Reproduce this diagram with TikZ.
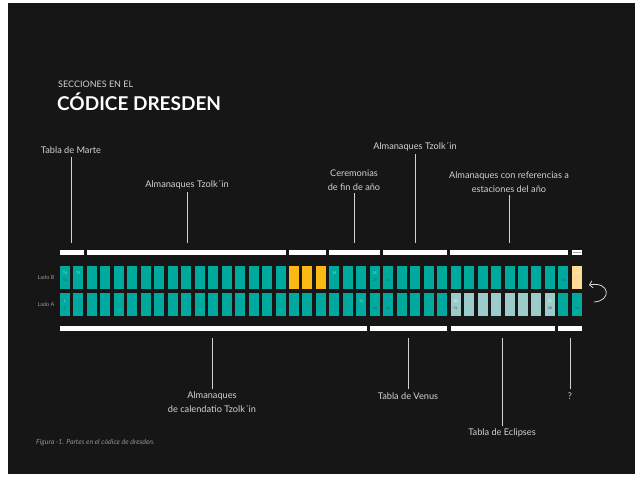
\documentclass[tikz,border=0pt]{standalone}
\usepackage{fontspec}
\setmainfont{Lato}
\usetikzlibrary{positioning,arrows.meta}
\definecolor{codexbg}{HTML}{161616}
\definecolor{codexteal}{HTML}{00A99D}
\definecolor{codexyellow}{HTML}{FDB913}
\definecolor{codexcream}{HTML}{FFDB94}
\definecolor{codexpale}{HTML}{9CCBCA}
\definecolor{labelgray}{HTML}{D2D2D2}
\definecolor{numdark}{HTML}{0A6A64}
\definecolor{numlight}{HTML}{A8DCD8}

\begin{document}
\begin{tikzpicture}[x=1pt,y=-1pt,
        cell/.style={minimum width=10pt,minimum height=23pt,inner sep=0pt},
        lbl/.style={text=labelgray,font=\fontsize{9.2}{13.5}\selectfont,align=center,inner sep=3pt},
        leader/.style={draw=labelgray,line width=0.7pt},
        pagenum/.style={font=\fontsize{3.5}{3.5}\selectfont,text=numdark,inner sep=0pt},
        lado/.style={text=gray!80,font=\fontsize{5.5}{6}\selectfont}]
        \fill[white] (0,0) rectangle (635,478);
        \fill[codexbg] (8,3) rectangle (635,474);
        \useasboundingbox (0,0) rectangle (635,478);

        \node[anchor=west,inner sep=0pt,text=labelgray,font=\fontsize{9}{10}\selectfont] (kicker) at (58,84) {SECCIONES EN EL};
        \node[anchor=west,inner sep=0pt,text=white,font=\fontsize{19}{21}\bfseries\selectfont] (title) at (57,102) {CÓDICE DRESDEN};

        % hojas del codice
        \foreach \i in {0,...,38} {
            \def\colb{codexteal}\def\cola{codexteal}
            \ifnum\i>16 \ifnum\i<20 \def\colb{codexyellow}\fi\fi
            \ifnum\i=38 \def\colb{codexcream}\fi
            \ifnum\i>28 \ifnum\i<37 \def\cola{codexpale}\fi\fi
            \node[cell,fill=\colb] (b\i) at ({65+13.47*\i},277.5) {};
            \node[cell,fill=\cola] (a\i) at ({65+13.47*\i},304.5) {};
        }
        \node[lado] (ladob) at (46,277.5) {Lado B};
        \node[lado] (ladoa) at (46,304.5) {Lado A};

        \node[pagenum,text=numlight] (n74) at ([yshift=-7pt]b0.north) {74};
        \node[pagenum] (n46) at ([yshift=-14pt]b0.north) {46};
        \node[pagenum,text=numlight] (n73) at ([yshift=-7pt]b1.north) {73};
        \node[pagenum,text=numlight] (n1) at ([yshift=-8pt]a0.north) {1};
        \node[pagenum] (n2) at ([yshift=-15pt]a0.north) {2};
        \node[pagenum,text=numlight] (n19) at ([yshift=-7pt]b20.north) {19};
        \node[pagenum,text=numlight] (n25) at ([yshift=-7pt]b23.north) {25};
        \node[pagenum] (n28) at ([yshift=-14pt]b23.north) {28};
        \node[pagenum] (n34) at ([yshift=-14pt]b24.north) {34};
        \node[pagenum,text=numlight] (n22) at ([yshift=-8pt]a22.north) {22};
        \node[pagenum] (n24) at ([yshift=-15pt]a23.north) {24};
        \node[pagenum] (n44) at ([yshift=-15pt]a24.north) {44};
        \node[pagenum,text=white] (n30) at ([yshift=-8pt]a29.north) {30};
        \node[pagenum,text=gray!60!black] (n31) at ([yshift=-15pt]a29.north) {31};
        \node[pagenum,text=white] (n37) at ([yshift=-8pt]a36.north) {37};
        \node[pagenum,text=gray!60!black] (n38) at ([yshift=-15pt]a36.north) {38};
        \node[pagenum] (n41) at ([yshift=-14pt]b37.north) {41};
        \node[pagenum,text=white] (n40) at ([yshift=-7pt]b38.north) {40};
        \node[pagenum] (n40a) at ([yshift=-15pt]a38.north) {40};

        % barras de secciones
        \fill[white] (60,250) rectangle (84,255);
        \fill[white] (87,250) rectangle (286,255);
        \fill[white] (289,250) rectangle (326,255);
        \fill[white] (329,250) rectangle (380,255);
        \fill[white] (383,250) rectangle (447,255);
        \fill[white] (450,250) rectangle (568,255);
        \fill[white] (572,250) rectangle (582,255);
        \fill[gray!70] (573,252) rectangle (581,253.5);
        \fill[white] (60,326) rectangle (367,331);
        \fill[white] (370,326) rectangle (447,331);
        \fill[white] (451,326) rectangle (555,331);
        \fill[white] (558,326) rectangle (582,331);

        % etiquetas de arriba
        \node[lbl] at (71,150) (marte) {Tabla de Marte};
        \node[lbl] at (187,185) (tzolka) {Almanaques Tzolk´in};
        \node[lbl] at (354,180) (fin) {Ceremonias\\de fin de año};
        \node[lbl] at (415,147) (tzolkb) {Almanaques Tzolk´in};
        \node[lbl] at (509,182) (estaciones) {Almanaques con referencias a\\estaciones del año};
        \coordinate (marteend) at (71,243);
        \coordinate (tzolkaend) at (187,243);
        \coordinate (finend) at (354,243);
        \coordinate (tzolkbend) at (415,243);
        \coordinate (estacionesend) at (509,243);
        \draw[leader] (marte) -- (marteend);
        \draw[leader] (tzolka) -- (tzolkaend);
        \draw[leader] (fin) -- (finend);
        \draw[leader] (tzolkb) -- (tzolkbend);
        \draw[leader] (estaciones) -- (estacionesend);

        % etiquetas de abajo
        \node[lbl] at (212,402) (calendario) {Almanaques\\de calendatio Tzolk´in};
        \node[lbl] at (408,396) (venus) {Tabla de Venus};
        \node[lbl] at (502,433) (eclipses) {Tabla de Eclipses};
        \node[lbl] at (570,396) (duda) {?};
        \coordinate (calendariostart) at (212,338);
        \coordinate (venusstart) at (408,338);
        \coordinate (eclipsesstart) at (502,338);
        \coordinate (dudastart) at (570,338);
        \draw[leader] (calendariostart) -- (calendario);
        \draw[leader] (venusstart) -- (venus);
        \draw[leader] (eclipsesstart) -- (eclipses);
        \draw[leader] (dudastart) -- (duda);

        % vuelta
        \draw[white!85!black,line width=0.8pt,-{Straight Barb[length=3pt,width=7pt]}]
            (594,302) .. controls (612,301) and (610,281) .. (589,285);

        \node[anchor=west,inner sep=0pt,text=gray!85,font=\fontsize{7}{8}\itshape\selectfont] (caption) at (36,443) {Figura -1. Partes en el códice de dresden.};
\end{tikzpicture}
\end{document}
